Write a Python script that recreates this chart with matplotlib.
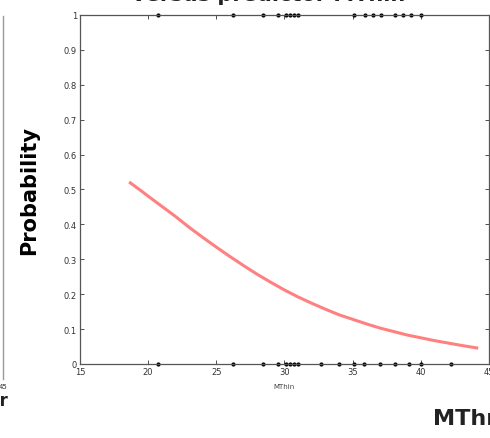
import matplotlib
matplotlib.use('Agg')
import matplotlib.pyplot as plt
from matplotlib.lines import Line2D

# fitted probability curve
curve_x = [18.7, 19.5, 20, 21, 22, 23, 24, 25, 26, 27, 28, 29, 30, 31, 32, 33, 34, 35,
           36, 37, 38, 39, 40, 41, 42, 43, 44.1]
curve_p = [0.519, 0.496, 0.481, 0.452, 0.423, 0.392, 0.363, 0.335, 0.308, 0.282, 0.257,
           0.234, 0.212, 0.192, 0.174, 0.157, 0.141, 0.128, 0.115, 0.103, 0.093, 0.083,
           0.075, 0.067, 0.060, 0.053, 0.046]

# observed responses
x_one = [20.7, 26.2, 28.4, 29.5, 30.1, 30.4, 30.7, 31.0, 35.1, 35.9, 36.5, 37.1, 38.1, 38.7, 39.3, 40.0]
x_zero = [20.7, 26.2, 28.4, 29.5, 30.1, 30.4, 30.7, 31.0, 32.7, 34.0, 35.1, 35.8, 37.0, 38.1, 39.1, 40.0, 42.2]

xticks = [15, 20, 25, 30, 35, 40, 45]
yticks = [0, 0.1, 0.2, 0.3, 0.4, 0.5, 0.6, 0.7, 0.8, 0.9, 1]
ytick_labels = ['0', '0.1', '0.2', '0.3', '0.4', '0.5', '0.6', '0.7', '0.8', '0.9', '1']

fig = plt.figure(figsize=(4.9, 4.39), dpi=100)
ax = fig.add_axes([0.163, 0.1686, 0.835, 0.795])

ax.plot(curve_x, curve_p, color='#ff8080', lw=2.2)
ax.plot(x_one, [1] * len(x_one), 'k.', ms=4, clip_on=False)
ax.plot(x_zero, [0] * len(x_zero), 'k.', ms=4, clip_on=False)

ax.set_xlim(15, 45)
ax.set_ylim(0, 1)
ax.set_xticks(xticks)
ax.set_yticks(yticks)
ax.set_yticklabels(ytick_labels)
ax.tick_params(direction='in', length=3, width=0.6, labelsize=6, colors='#333333', pad=2,
               top=True, right=True)
for s in ax.spines.values():
    s.set_color('#555555')
    s.set_linewidth(0.9)

ax.set_xlabel('MThin', fontsize=5, color='#444444', labelpad=5)
ax.set_ylabel('Probability', fontsize=15, fontweight='bold', labelpad=18)

fig.text(0.549, 1 - 1 / 439, 'versus predictor MThin', ha='center', va='baseline',
         fontsize=15, fontweight='bold', color='#222222')
fig.text(433 / 490, 14 / 439, 'MThr', ha='left', va='baseline', fontsize=16,
         fontweight='bold', color='#222222')

# bits of the neighbouring panel on the left
fig.add_artist(Line2D([3 / 490, 3 / 490], [1 - 17 / 439, 1 - 380 / 439],
                      color='#999999', lw=1.0, transform=fig.transFigure))
fig.text(7 / 490, 1 - 389 / 439, '45', ha='right', va='baseline', fontsize=5, color='#333333')
fig.text(8 / 490, 1 - 406 / 439, 'MThr', ha='right', va='baseline', fontsize=12,
         fontweight='bold', color='#222222')

fig.savefig('out.png', dpi=100)
